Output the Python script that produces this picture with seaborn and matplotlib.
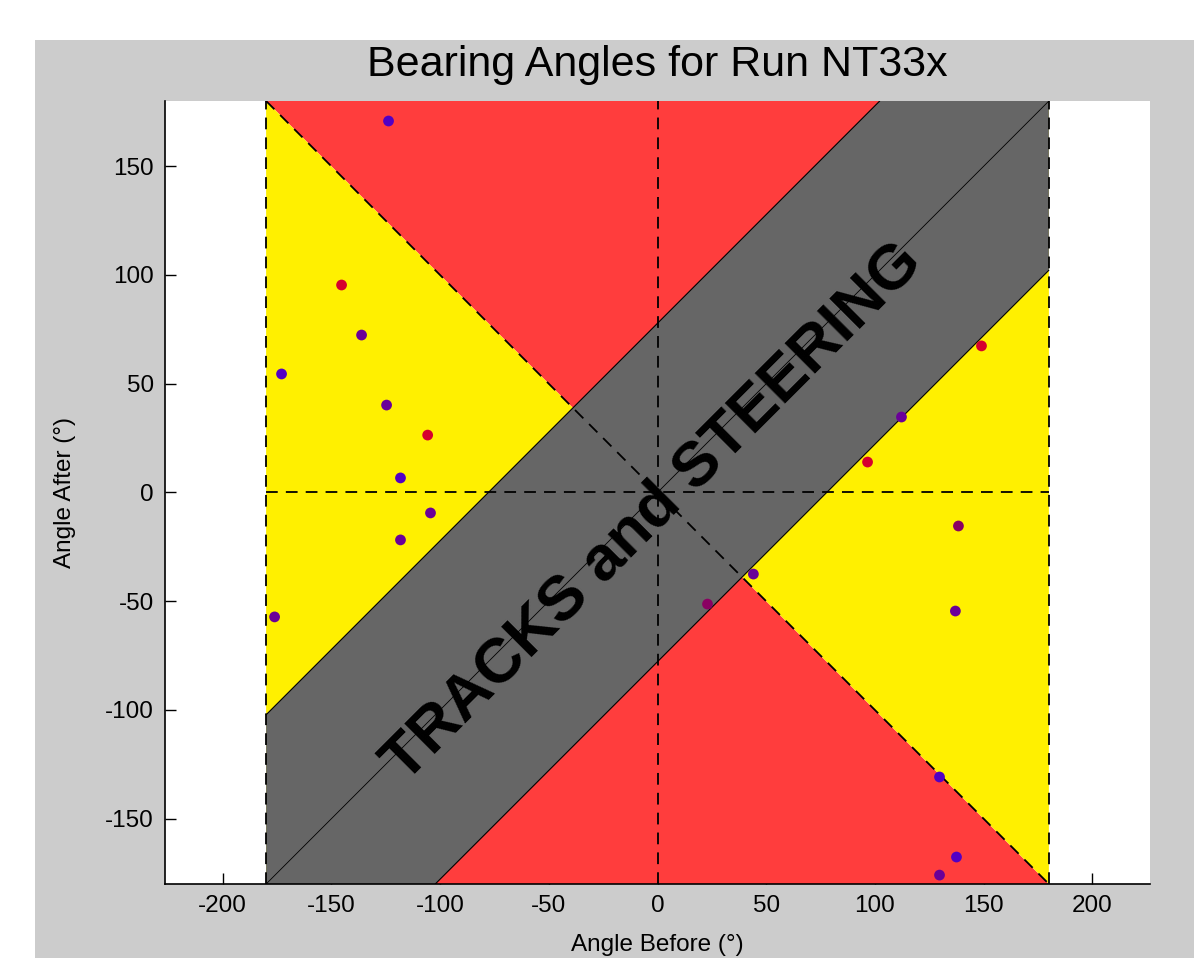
import numpy as np
import pandas as pd
import matplotlib
matplotlib.use("Agg")
import matplotlib.pyplot as plt
from matplotlib.patches import Polygon, Rectangle
import seaborn as sns

# ---- data ----
angle_before = [-123.7, -145.3, -136.1, -172.9, -124.6, -105.7, -118.2, -104.4, -118.2, -176.1,
                23.0, 44.1, 96.6, 112.2, 149.0, 138.4, 137.0, 129.7, 137.5, 129.7]
angle_after = [170.8, 95.4, 72.4, 54.5, 40.2, 26.4, 6.7, -9.4, -21.8, -57.2,
               -51.3, -37.5, 14.0, 34.7, 67.4, -15.4, -54.5, -130.8, -167.6, -175.9]
point_group = ["blue", "red", "purple", "blue", "purple", "red", "blue", "purple", "purple", "purple",
               "magenta", "purple", "red", "purple", "red", "magenta", "purple", "blue", "blue", "purple"]
x_ticks = [-200, -150, -100, -50, 0, 50, 100, 150, 200]
y_ticks = [-150, -100, -50, 0, 50, 100, 150]
limit = 180
band = 77.8
title = "Bearing Angles for Run NT33x"
overlay = "TRACKS and STEERING"

palette = {"blue": "#5200c4", "purple": "#6a0098", "magenta": "#8a0062", "red": "#d6002e"}
RED = "#ff3d3d"
YELLOW = "#fff000"
GRAY = "#666666"

df = pd.DataFrame({"before": angle_before, "after": angle_after, "group": point_group})

sns.set_style("white")
plt.rcParams["font.family"] = ["Liberation Sans", "DejaVu Sans"]
plt.rcParams["axes.unicode_minus"] = False
plt.rcParams["text.color"] = "black"
plt.rcParams["axes.labelcolor"] = "black"

fig = plt.figure(figsize=(11.94, 9.58), dpi=100, facecolor="white")
fig.add_artist(Rectangle((35 / 1194, 0), 1, 1 - 40 / 958, transform=fig.transFigure,
                         facecolor="#cccccc", edgecolor="none", zorder=-10))
ax = fig.add_axes([165 / 1194, 1 - 884 / 958, 985 / 1194, 783 / 958])
ax.set_facecolor("white")

L = limit
# regions
for pts, col in [([(-L, L), (L, L), (0, 0)], RED), ([(-L, -L), (L, -L), (0, 0)], RED),
                 ([(-L, L), (-L, -L), (0, 0)], YELLOW), ([(L, L), (L, -L), (0, 0)], YELLOW)]:
    ax.add_patch(Polygon(pts, closed=True, facecolor=col, edgecolor="none", zorder=1))
ax.add_patch(Polygon([(-L, -L + band), (L - band, L), (L, L), (L, L - band), (-L + band, -L), (-L, -L)],
                     closed=True, facecolor=GRAY, edgecolor="none", zorder=2))
ax.plot([-L, L - band], [-L + band, L], color="black", lw=0.8, zorder=3)
ax.plot([-L + band, L], [-L, L - band], color="black", lw=0.8, zorder=3)
ax.plot([-L, L], [-L, L], color="black", lw=0.6, zorder=3)

dash = dict(color="black", lw=1.3, dashes=(6.5, 4.5), zorder=4)
ax.plot([-L, L], [0, 0], **dash)
ax.plot([0, 0], [-L, L], **dash)
ax.plot([-L, -L], [-L, L], **dash)
ax.plot([L, L], [-L, L], **dash)
ax.plot([-L, L], [L, -L], **dash)

sns.scatterplot(data=df, x="before", y="after", hue="group", palette=palette, s=60,
                edgecolor="none", legend=False, ax=ax, zorder=5)

ax.text(-2, -9, overlay, rotation=45, rotation_mode="anchor", ha="center", va="center",
        fontsize=45.5, fontweight="bold", color="black", zorder=6)

ax.set_xlim(-226.5, 226.5)
ax.set_ylim(-L, L)
ax.set_xticks(x_ticks)
ax.set_yticks(y_ticks)
ax.tick_params(direction="in", length=8, width=1, labelsize=17.5, colors="black",
               bottom=True, left=True, top=False, right=False, pad=8)
for s in ["top", "right"]:
    ax.spines[s].set_visible(False)
for s in ["left", "bottom"]:
    ax.spines[s].set_color("black")
    ax.spines[s].set_linewidth(1.2)

ax.set_title(title, fontsize=31, pad=18, color="black")
ax.set_xlabel("Angle Before (°)", fontsize=17.5, color="black")
ax.set_ylabel("Angle After (°)", fontsize=17.5, color="black")
ax.xaxis.label.set_va("center")
ax.yaxis.label.set_va("center")
ax.xaxis.set_label_coords(0.5, -0.078)
ax.yaxis.set_label_coords(-0.1015, 0.5)

fig.savefig("out.png", dpi=100, facecolor=fig.get_facecolor())
